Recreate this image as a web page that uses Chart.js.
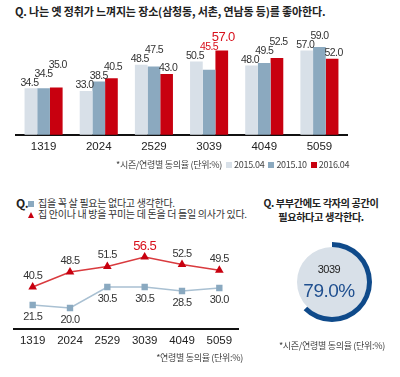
<!DOCTYPE html>
<html>
<head>
<meta charset="utf-8">
<script src="https://cdn.jsdelivr.net/npm/chart.js@4.4.0/dist/chart.umd.min.js"></script>
<style>
  body { margin: 0; background: #fff; }
  #page { position: relative; width: 400px; height: 377px; overflow: hidden; font-family: "Noto Sans CJK KR", sans-serif; color: #222; }
  .abs { position: absolute; white-space: nowrap; }
  .title { font-weight: bold; font-size: 11px; line-height: 14px; letter-spacing: -0.15px; }
  .note { font-size: 9px; line-height: 12px; color: #444; letter-spacing: -0.3px; }
  .sw { display: inline-block; width: 6px; height: 6px; margin: 0 2px 0 4px; vertical-align: 0; }
  .leg { font-size: 10px; line-height: 12px; color: #333; letter-spacing: -0.3px; }
  canvas { position: absolute; }
</style>
</head>
<body>
<div id="page">
  <div class="abs title" style="left:15px; top:4px;">Q. 나는 옛 정취가 느껴지는 장소(삼청동, 서촌, 연남동 등)를 좋아한다.</div>
  <canvas id="bars" width="400" height="145" style="left:0; top:21px;"></canvas>
  <div class="abs note" style="left:116px; top:159px;">*시즌/연령별 동의율 (단위:%)<span id="barLegend"></span></div>

  <div class="abs" style="left:16px; top:195px; font-weight:bold; font-size:12px; line-height:16px; letter-spacing:-0.5px;">Q.</div>
  <div class="abs leg" style="left:28px; top:197px;"><span style="display:inline-block;width:6px;height:6px;background:#8aa9c0;margin-right:4px;"></span>집을 꼭 살 필요는 없다고 생각한다.</div>
  <div class="abs leg" style="left:28px; top:208px;"><span style="display:inline-block;width:0;height:0;border-left:3.5px solid transparent;border-right:3.5px solid transparent;border-bottom:6px solid #c8000f;margin-right:4px;"></span>집 안이나 내 방을 꾸미는 데 돈을 더 들일 의사가 있다.</div>
  <canvas id="lines" width="250" height="130" style="left:0; top:225px;"></canvas>
  <div class="abs note" style="right:157px; top:352px;">*연령별 동의율 (단위:%)</div>

  <div class="abs title" style="left:261px; top:196px; width:120px; text-align:center; font-size:10.2px; line-height:13.5px; letter-spacing:-0.4px;">Q. 부부간에도 각자의 공간이<br>필요하다고 생각한다.</div>
  <canvas id="donut" width="80" height="80" style="left:292px; top:242px;"></canvas>
  <div class="abs" id="donutAge" style="left:289px; top:263px; width:80px; text-align:center; font-family:'Liberation Sans',sans-serif; font-size:11px; line-height:13px; letter-spacing:-0.5px;"></div>
  <div class="abs" id="donutValue" style="left:289px; top:280px; width:80px; text-align:center; font-family:'Liberation Sans',sans-serif; font-size:19px; line-height:22px; color:#1f4f8f; letter-spacing:-0.5px;"></div>
  <div class="abs note" style="left:262px; top:340px; width:140px; text-align:center;">*시즌/연령별 동의율 (단위:%)</div>
</div>

<script>
// age groups on every x axis
const ageGroups = ['1319', '2024', '2529', '3039', '4049', '5059'];

// top chart: agreement by survey wave
const waveNames = ['2015.04', '2015.10', '2016.04'];
const wave201504 = [34.5, 33.0, 48.5, 50.5, 48.0, 57.0];
const wave201510 = [34.5, 38.5, 47.5, 45.5, 49.5, 59.0];
const wave201604 = [35.0, 40.5, 43.0, 57.0, 52.5, 52.0];

// bottom-left chart
const noNeedToBuyHome = [21.5, 20.0, 30.5, 30.5, 28.5, 30.0];
const spendOnMyRoom = [40.5, 48.5, 51.5, 56.5, 52.5, 49.5];

// bottom-right chart
const donutAge = '3039';
const donutAgree = 79.0;

const highlightAge = '3039';
const RED = '#c8000f';
const numFont = '"Liberation Sans", Arial, sans-serif';

Chart.defaults.font.family = numFont;
Chart.defaults.color = '#222';

const waveColors = ['#d8e0e8', '#8ba9bf', RED];

// legend for the bar chart, inline after the footnote
document.getElementById('barLegend').innerHTML = waveNames.map((n, i) =>
  '<span class="sw" style="background:' + waveColors[i] + '"></span>' + n).join('');

const hi = ageGroups.indexOf(highlightAge);

// labels over bars, pushed up when they would collide with the neighbour
const barLabels = {
  id: 'barLabels',
  afterDatasetsDraw(chart) {
    const ctx = chart.ctx;
    const n = chart.data.labels.length;
    for (let i = 0; i < n; i++) {
      let prevY = null;
      chart.data.datasets.forEach((ds, di) => {
        const el = chart.getDatasetMeta(di).data[i];
        let y = el.y - 5.5;
        if (prevY !== null && Math.abs(y - prevY) < 9) y = prevY - 9;
        prevY = y;
        const red = i === hi && di > 0;
        const big = i === hi && di === 2;
        ctx.save();
        ctx.font = (big ? '13px ' : '10.5px ') + numFont;
        ctx.letterSpacing = '-0.6px';
        ctx.fillStyle = red ? '#d8101c' : '#333';
        ctx.textAlign = 'center';
        ctx.textBaseline = 'middle';
        ctx.fillText(ds.data[i].toFixed(1), el.x + (di - 1) * 1.5, y);
        ctx.restore();
      });
    }
  }
};

new Chart(document.getElementById('bars'), {
  type: 'bar',
  data: {
    labels: ageGroups,
    datasets: [
      { label: waveNames[0], data: wave201504, backgroundColor: waveColors[0] },
      { label: waveNames[1], data: wave201510, backgroundColor: waveColors[1] },
      { label: waveNames[2], data: wave201604, backgroundColor: waveColors[2] }
    ]
  },
  options: {
    responsive: false,
    animation: false,
    categoryPercentage: 0.69,
    barPercentage: 1,
    layout: { padding: { left: 16, right: 53, top: 20, bottom: 7.5 } },
    plugins: { legend: { display: false }, tooltip: { enabled: false } },
    scales: {
      x: {
        grid: { display: false, drawTicks: false },
        border: { display: true, color: '#111', width: 2 },
        ticks: { padding: 5, font: { size: 11.5 }, color: '#222' }
      },
      y: { display: false, min: 7, max: 62.6 }
    }
  },
  plugins: [barLabels]
});

// labels for the line chart: red above, blue below
const lineLabels = {
  id: 'lineLabels',
  afterDatasetsDraw(chart) {
    const ctx = chart.ctx;
    chart.data.datasets.forEach((ds, di) => {
      chart.getDatasetMeta(di).data.forEach((el, i) => {
        const above = di === 1;
        const big = above && i === hi;
        ctx.save();
        ctx.font = (big ? '13px ' : '11px ') + numFont;
        ctx.letterSpacing = '-0.6px';
        ctx.fillStyle = big ? '#d8101c' : '#333';
        ctx.textAlign = 'center';
        ctx.textBaseline = 'middle';
        ctx.fillText(ds.data[i].toFixed(1), el.x, el.y + (above ? -11 : 11.5));
        ctx.restore();
      });
    });
  }
};

new Chart(document.getElementById('lines'), {
  type: 'line',
  data: {
    labels: ageGroups,
    datasets: [
      {
        data: noNeedToBuyHome, yAxisID: 'y',
        borderColor: '#a9c0d2', borderWidth: 1.5,
        pointStyle: 'rect', pointRadius: 4.5,
        pointBackgroundColor: '#8aa9c0', pointBorderColor: '#8aa9c0', pointBorderWidth: 0
      },
      {
        data: spendOnMyRoom, yAxisID: 'y2',
        borderColor: '#d93a3e', borderWidth: 1.5,
        pointStyle: 'triangle', pointRadius: 5,
        pointBackgroundColor: RED, pointBorderColor: RED, pointBorderWidth: 0
      }
    ]
  },
  options: {
    responsive: false,
    animation: false,
    layout: { padding: { left: 14, right: 12, top: 15, bottom: 2.2 } },
    plugins: { legend: { display: false }, tooltip: { enabled: false } },
    scales: {
      x: {
        offset: true,
        grid: { display: false, drawTicks: false },
        border: { display: true, color: '#111', width: 2 },
        ticks: { padding: 5, font: { size: 11.5 }, color: '#222' }
      },
      y: { display: false, min: 9.5, max: 54 },
      y2: { display: false, min: 18.1, max: 65.6 }
    }
  },
  plugins: [lineLabels]
});

document.getElementById('donutAge').textContent = donutAge;
document.getElementById('donutValue').textContent = donutAgree.toFixed(1) + '%';

new Chart(document.getElementById('donut'), {
  type: 'doughnut',
  data: {
    datasets: [
      {
        data: [donutAgree, 100 - donutAgree],
        backgroundColor: ['#0f4a8a', 'rgba(0,0,0,0)'],
        borderWidth: 0, weight: 1, circumference: 285
      },
      { data: [100], backgroundColor: ['#d8e0e8'], borderWidth: 0, weight: 7 }
    ]
  },
  options: {
    responsive: false,
    animation: false,
    cutout: 0,
    plugins: { legend: { display: false }, tooltip: { enabled: false } }
  }
});
</script>
</body>
</html>
